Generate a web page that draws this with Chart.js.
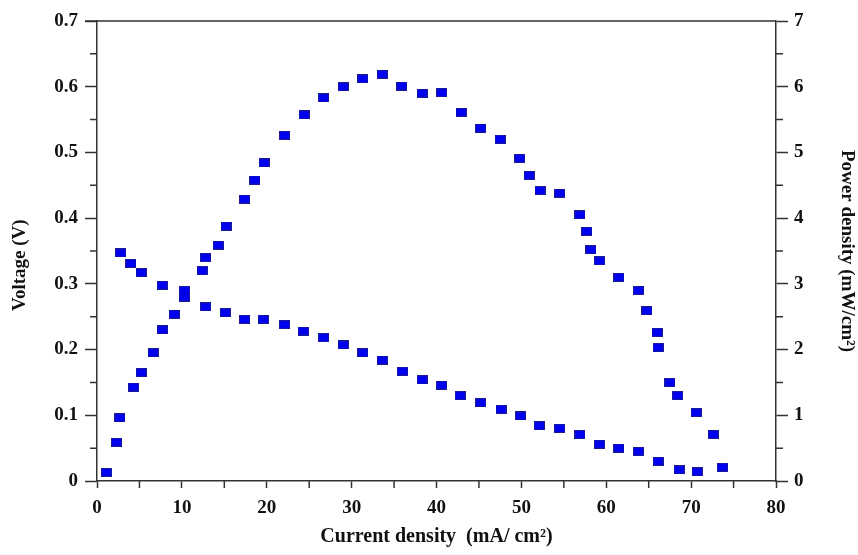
<!DOCTYPE html>
<html>
<head>
<meta charset="utf-8">
<script src="https://cdn.jsdelivr.net/npm/chart.js@4.4.1/dist/chart.umd.min.js"></script>
<style>
    html, body { margin: 0; padding: 0; background: #fff; }
    #wrap { width: 858px; height: 555px; position: relative; }
</style>
</head>
<body>
<div id="wrap"><canvas id="chartPolarizacao"></canvas></div>
<script>
// curva de polarização (V) e densidade de potência (mW/cm2)
const correnteV = [2.8, 4.0, 5.2, 7.7, 10.3, 12.8, 15.1, 17.4, 19.6, 22.1, 24.3, 26.7, 29.0, 31.3, 33.6, 36.0, 38.3, 40.6,
    42.8, 45.2, 47.6, 49.9, 52.1, 54.5, 56.9, 59.2, 61.5, 63.8, 66.1, 68.6, 70.7];
const voltagem = [0.347, 0.331, 0.317, 0.298, 0.280, 0.265, 0.256, 0.246, 0.246, 0.238, 0.228, 0.218, 0.207, 0.195, 0.184, 0.167, 0.154, 0.146,
    0.130, 0.119, 0.109, 0.099, 0.084, 0.080, 0.071, 0.056, 0.050, 0.045, 0.030, 0.017, 0.014];

const correnteP = [1.1, 2.3, 2.7, 4.3, 5.2, 6.6, 7.7, 9.1, 10.3, 12.4, 12.8, 14.3, 15.2, 17.4, 18.6, 19.7, 22.1, 24.4, 26.7, 29.0,
    31.3, 33.6, 35.9, 38.3, 40.6, 42.9, 45.2, 47.5, 49.8, 50.9, 52.2, 54.5, 56.9, 57.7, 58.2, 59.2, 61.5, 63.8, 64.8,
    66.0, 66.1, 67.5, 68.4, 70.6, 72.6, 73.7];
const potencia = [0.13, 0.59, 0.96, 1.43, 1.65, 1.95, 2.30, 2.54, 2.90, 3.20, 3.40, 3.59, 3.88, 4.29, 4.58, 4.84, 5.26, 5.57, 5.83, 6.00,
    6.12, 6.19, 6.01, 5.90, 5.91, 5.61, 5.37, 5.20, 4.91, 4.65, 4.42, 4.38, 4.05, 3.80, 3.52, 3.35, 3.10, 2.90, 2.59,
    2.26, 2.03, 1.50, 1.30, 1.04, 0.71, 0.21];

const ticksX = [0, 10, 20, 30, 40, 50, 60, 70, 80];

const fonteSerif = '"Liberation Serif", "Times New Roman", serif';

// marcador retangular azul
function criarMarcador() {
    const c = document.createElement('canvas');
    c.width = 11;
    c.height = 9;
    const g = c.getContext('2d');
    g.fillStyle = '#1a1a9a';
    g.fillRect(0, 0, 11, 9);
    g.fillStyle = '#0000f0';
    g.fillRect(1, 1, 9, 7);
    return c;
}
const marcador = criarMarcador();

// desenha as marcas menores e a linha superior do quadro
const minorTicks = {
    id: 'minorTicks',
    afterDraw(chart) {
        const ctx = chart.ctx;
        const area = chart.chartArea;
        const { x, y, y1 } = chart.scales;
        ctx.save();
        ctx.strokeStyle = '#333';
        ctx.lineWidth = 1.5;
        ctx.beginPath();
        for (let v = 5; v < 80; v += 10) {
            const px = x.getPixelForValue(v);
            ctx.moveTo(px, area.bottom);
            ctx.lineTo(px, area.bottom + 7);
        }
        for (let v = 0.05; v < 0.7; v += 0.1) {
            const py = y.getPixelForValue(v);
            ctx.moveTo(area.left, py);
            ctx.lineTo(area.left - 7, py);
        }
        for (let v = 0.5; v < 7; v += 1) {
            const py = y1.getPixelForValue(v);
            ctx.moveTo(area.right, py);
            ctx.lineTo(area.right + 7, py);
        }
        ctx.moveTo(area.left - 12, area.top);
        ctx.lineTo(area.right, area.top);
        ctx.stroke();
        ctx.restore();
    }
};

const ctx = document.getElementById('chartPolarizacao').getContext('2d');
new Chart(ctx, {
    type: 'scatter',
    data: {
        datasets: [{
            label: 'Voltage',
            data: correnteV.map((c, i) => ({ x: c, y: voltagem[i] })),
            yAxisID: 'y',
            pointStyle: marcador,
            pointRadius: 5,
            pointHoverRadius: 5
        }, {
            label: 'Power density',
            data: correnteP.map((c, i) => ({ x: c, y: potencia[i] })),
            yAxisID: 'y1',
            pointStyle: marcador,
            pointRadius: 5,
            pointHoverRadius: 5
        }]
    },
    options: {
        responsive: true,
        maintainAspectRatio: false,
        animation: false,
        layout: { padding: { top: 21, left: 0, right: 0, bottom: 0 } },
        plugins: {
            legend: { display: false },
            tooltip: { enabled: false }
        },
        scales: {
            x: {
                type: 'linear',
                min: 0,
                max: 80,
                afterBuildTicks: s => { s.ticks = ticksX.map(v => ({ value: v })); },
                afterFit: s => { s.height = 74; },
                border: { color: '#333', width: 1.5 },
                grid: { drawOnChartArea: false, tickLength: 7, tickColor: '#333', tickWidth: 1.5 },
                ticks: { color: '#111', padding: 9, font: { family: fonteSerif, size: 19, weight: 'bold' } },
                title: {
                    display: true,
                    text: 'Current density  (mA/ cm²)',
                    color: '#111',
                    padding: { top: 0, bottom: 6 },
                    font: { family: fonteSerif, size: 20, weight: 'bold' }
                }
            },
            y: {
                position: 'left',
                min: 0,
                max: 0.7,
                afterFit: s => { s.width = 97; },
                border: { color: '#333', width: 1.5 },
                grid: { drawOnChartArea: false, tickLength: 12, tickColor: '#333', tickWidth: 1.5 },
                ticks: {
                    stepSize: 0.1,
                    color: '#111',
                    padding: 7,
                    font: { family: fonteSerif, size: 19, weight: 'bold' },
                    callback: v => v === 0 ? '0' : v.toFixed(1)
                },
                title: {
                    display: true,
                    // espaços no fim deslocam o texto para baixo, como no original
                    text: 'Voltage (V)      ',
                    color: '#111',
                    padding: { top: 9, bottom: 0 },
                    font: { family: fonteSerif, size: 19, weight: 'bold' }
                }
            },
            y1: {
                position: 'right',
                min: 0,
                max: 7,
                afterFit: s => { s.width = 82; },
                border: { color: '#333', width: 1.5 },
                grid: { drawOnChartArea: false, tickLength: 12, tickColor: '#333', tickWidth: 1.5 },
                ticks: {
                    stepSize: 1,
                    color: '#111',
                    padding: 6,
                    font: { family: fonteSerif, size: 19, weight: 'bold' }
                },
                title: {
                    display: true,
                    text: 'Power density (mW/cm²)',
                    color: '#111',
                    padding: { top: 0, bottom: 8 },
                    font: { family: fonteSerif, size: 19, weight: 'bold' }
                }
            }
        }
    },
    plugins: [minorTicks]
});
</script>
</body>
</html>
